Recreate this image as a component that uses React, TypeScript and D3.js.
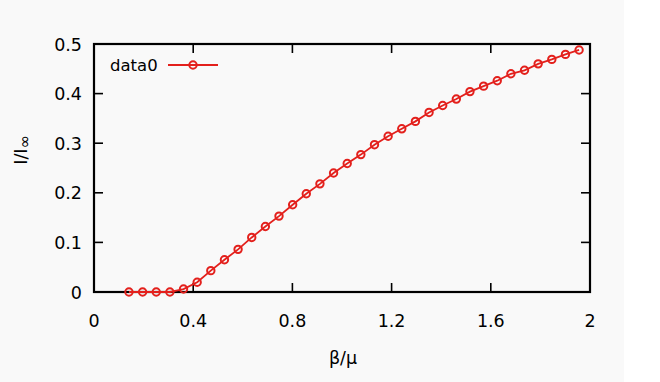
import React from "react";
import * as d3 from "d3";

const xValues = [0.141, 0.196, 0.251, 0.306, 0.361, 0.416, 0.471, 0.526, 0.581, 0.636, 0.691, 0.746, 0.801, 0.856, 0.911, 0.966, 1.021, 1.076, 1.131, 1.186, 1.241, 1.296, 1.351, 1.406, 1.461, 1.516, 1.571, 1.626, 1.681, 1.736, 1.791, 1.846, 1.901, 1.956];
const yValues = [0, 0, 0, 0, 0.006, 0.0196, 0.043, 0.065, 0.086, 0.11, 0.132, 0.153, 0.176, 0.198, 0.218, 0.24, 0.259, 0.277, 0.297, 0.314, 0.329, 0.344, 0.362, 0.376, 0.389, 0.404, 0.415, 0.426, 0.44, 0.447, 0.46, 0.469, 0.479, 0.488];
const xTicks = [0, 0.4, 0.8, 1.2, 1.6, 2];
const yTicks = [0, 0.1, 0.2, 0.3, 0.4, 0.5];
const seriesName = "data0";

const W = 660, H = 382;
const L = 94, R = 590, T = 44, B = 292;
const RED = "#e3201c";
const FONT = "DejaVu Sans, sans-serif";

export default function App() {
  const x = d3.scaleLinear().domain([0, 2]).range([L, R]);
  const y = d3.scaleLinear().domain([0, 0.5]).range([B, T]);
  const pts = xValues.map((v, i) => [v, yValues[i]] as [number, number]);
  const line = d3.line<[number, number]>().x(d => x(d[0])).y(d => y(d[1]));
  const tl = 9;
  return (
    <svg width={W} height={H} style={{ position: "absolute", left: 0, top: 0, background: "#fff" }}>
      <rect x={0} y={0} width={624} height={H} fill="#f9f9f9" />
      {xTicks.map(t => (
        <g key={"x" + t}>
          <line x1={x(t)} x2={x(t)} y1={B} y2={B - tl} stroke="#000" strokeWidth={1.6} />
          <line x1={x(t)} x2={x(t)} y1={T} y2={T + tl} stroke="#000" strokeWidth={1.6} />
          <text x={x(t)} y={327} textAnchor="middle" fontFamily={FONT} fontSize={17.5} fill="#000">{t}</text>
        </g>
      ))}
      {yTicks.map(t => (
        <g key={"y" + t}>
          <line x1={L} x2={L + tl} y1={y(t)} y2={y(t)} stroke="#000" strokeWidth={1.6} />
          <line x1={R} x2={R - tl} y1={y(t)} y2={y(t)} stroke="#000" strokeWidth={1.6} />
          <text x={82} y={y(t) + 6.5} textAnchor="end" fontFamily={FONT} fontSize={17.5} fill="#000">{t}</text>
        </g>
      ))}
      <rect x={L} y={T} width={R - L} height={B - T} fill="none" stroke="#000" strokeWidth={2.2} />
      <path d={line(pts) || ""} fill="none" stroke={RED} strokeWidth={1.8} />
      {pts.map((p, i) => (
        <circle key={i} cx={x(p[0])} cy={y(p[1])} r={3.7} fill="none" stroke={RED} strokeWidth={2} />
      ))}
      <text x={110} y={71} fontFamily={FONT} fontSize={16.5} fill="#000">{seriesName}</text>
      <line x1={168} x2={218} y1={65} y2={65} stroke={RED} strokeWidth={1.8} />
      <circle cx={193} cy={65} r={3.7} fill="none" stroke={RED} strokeWidth={2} />
      <text x={343} y={364} textAnchor="middle" fontFamily={FONT} fontSize={17.5} fill="#000">β/μ</text>
      <text transform="translate(27,150) rotate(-90)" textAnchor="middle" fontFamily={FONT} fontSize={17.5} fill="#000">
        I/I<tspan fontSize={16} dy={3}>∞</tspan>
      </text>
    </svg>
  );
}
